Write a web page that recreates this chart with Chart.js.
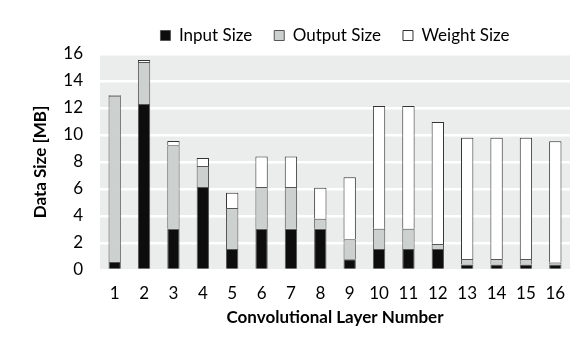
<!DOCTYPE html>
<html>
<head>
<meta charset="utf-8">
<script src="https://cdn.jsdelivr.net/npm/chart.js@4"></script>
<style>
  html, body { margin: 0; padding: 0; background: #fff; }
  #wrap { width: 581px; height: 337px; }
</style>
</head>
<body>
<div id="wrap"><canvas id="size_chart" width="581" height="337"></canvas></div>
<script>
const layers = ["1", "2", "3", "4", "5", "6", "7", "8", "9", "10", "11", "12", "13", "14", "15", "16"];
const input_size = [0.6, 12.3, 3.05, 6.15, 1.55, 3.05, 3.05, 3.05, 0.8, 1.55, 1.55, 1.55, 0.4, 0.4, 0.4, 0.4];
const output_size = [12.3, 3.1, 6.2, 1.55, 3.05, 3.1, 3.1, 0.75, 1.47, 1.5, 1.5, 0.38, 0.42, 0.42, 0.42, 0.15];
const weight_size = [0.07, 0.15, 0.3, 0.6, 1.12, 2.25, 2.25, 2.3, 4.6, 9.1, 9.1, 9.03, 8.98, 8.98, 8.98, 8.98];

// grey plot area behind the bars
const plotBackground = {
  id: "plotBackground",
  beforeDraw(chart) {
    const { ctx, chartArea } = chart;
    ctx.save();
    ctx.fillStyle = "#ebecec";
    ctx.fillRect(chartArea.left, chartArea.top, chartArea.right - chartArea.left, chartArea.bottom - chartArea.top);
    ctx.restore();
  }
};

Chart.defaults.font.family = "Lato, 'Open Sans', sans-serif";
Chart.defaults.font.size = 17;
Chart.defaults.color = "#000";

const size_ctx = document.getElementById("size_chart").getContext("2d");

const sizeChart = new Chart(size_ctx, {
  type: "bar",
  data: {
    labels: layers,
    datasets: [
      { label: "Input Size", data: input_size, backgroundColor: "#0d0d0d", borderColor: "#555", borderWidth: 1 },
      { label: "Output Size", data: output_size, backgroundColor: "#ccd0ce", borderColor: "#555", borderWidth: 1 },
      { label: "Weight Size", data: weight_size, backgroundColor: "#ffffff", borderColor: "#333", borderWidth: 1 },
    ],
  },
  options: {
    responsive: false,
    animation: false,
    layout: { padding: { top: 5, right: 11, left: 0, bottom: 0 } },
    datasets: { bar: { barPercentage: 0.42, categoryPercentage: 1.0 } },
    plugins: {
      legend: {
        position: "top",
        fullSize: false,
        labels: { boxWidth: 10, boxHeight: 10, padding: 22, color: "#000" },
      },
      tooltip: { enabled: false },
    },
    scales: {
      x: {
        stacked: true,
        grid: { display: false },
        border: { display: false },
        ticks: { padding: 5 },
        title: { display: true, text: "Convolutional Layer Number", font: { weight: "bold" }, padding: { top: 0, bottom: 9 } },
        afterFit(scale) { scale.height = 67; },
      },
      y: {
        stacked: true,
        min: 0,
        max: 16,
        grid: { color: "#ffffff", lineWidth: 2.5, drawTicks: false },
        border: { display: false },
        ticks: { stepSize: 2, padding: 17 },
        title: { display: true, text: "Data Size [MB]", font: { weight: "bold" }, padding: { top: 30, bottom: 0 } },
        afterFit(scale) { scale.width = 100; },
      },
    },
  },
  plugins: [plotBackground],
});
</script>
</body>
</html>
